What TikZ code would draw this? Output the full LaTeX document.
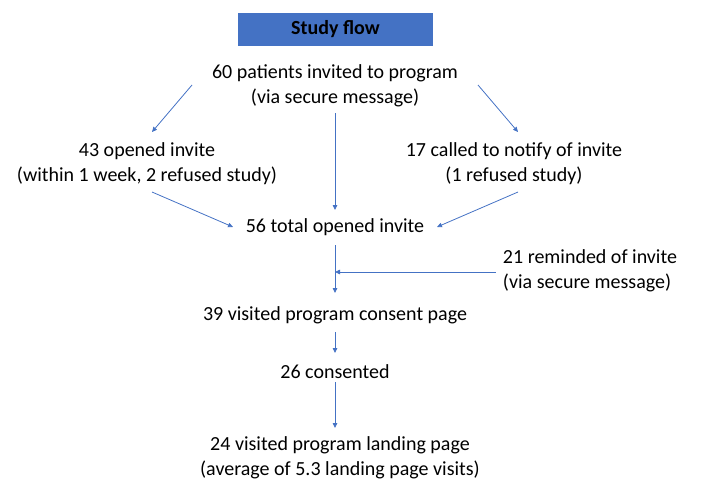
\documentclass[tikz,border=0pt]{standalone}
\usepackage{fontspec}
\setmainfont{Carlito}
\usepackage{tikz}
\usetikzlibrary{arrows.meta, positioning, calc}
\usepackage{xcolor}
\definecolor{flowblue}{HTML}{4472C4}
\tikzstyle{arrow} = [flowblue, line width=0.8pt, -{Triangle[length=5pt,width=4.5pt]}]
\tikzstyle{txt} = [inner sep=0pt, align=center, font=\fontsize{20}{25}\selectfont]
\tikzstyle{title} = [fill=flowblue, minimum width=195pt, minimum height=33pt, font=\fontsize{20}{22}\selectfont\bfseries]

\begin{document}
\begin{tikzpicture}[x=1pt, y=-1pt]
        \useasboundingbox (0,0) rectangle (712,495);
        \node[title] (T) at (335.5,29.5) {Study flow};
        \node[txt] (invited) at (335,86) {60 patients invited to program\\(via secure message)};
        \node[txt] (opened) at (147,164) {43 opened invite\\(within 1 week, 2 refused study)};
        \node[txt] (called) at (514,164) {17 called to notify of invite\\(1 refused study)};
        \node[txt] (total) at (335,227) {56 total opened invite};
        \node[txt, align=left] (reminded) at (590,271) {21 reminded of invite\\(via secure message)};
        \node[txt] (consent) at (335,315) {39 visited program consent page};
        \node[txt] (consented) at (335,372) {26 consented};
        \node[txt] (landing) at (340,458) {24 visited program landing page\\(average of 5.3 landing page visits)};
        \coordinate (join) at (reminded.west |- 0,272);
        \draw[arrow] ([shift={(-143,-1)}]invited.center) -- ([shift={(5,-32)}]opened.center);
        \draw[arrow] ([shift={(143,-1)}]invited.center) -- ([shift={(4,-32)}]called.center);
        \draw[arrow] ([yshift=-27pt]invited.center) -- ([yshift=17pt]total.center);
        \draw[arrow] ([shift={(5,28)}]opened.center) -- ([xshift=-102pt]total.center);
        \draw[arrow] ([shift={(4,28)}]called.center) -- ([xshift=102pt]total.center);
        \draw[arrow] ([yshift=-18pt]total.center) -- ([yshift=22pt]consent.center);
        \draw[arrow] ([xshift=-7pt]join) -- (total.south |- join);
        \draw[arrow] ([yshift=-17pt]consent.center) -- ([yshift=19pt]consented.center);
        \draw[arrow] ([yshift=-10pt]consented.center) -- ([shift={(-5,-30)}]landing.center);
      \end{tikzpicture}
\end{document}
